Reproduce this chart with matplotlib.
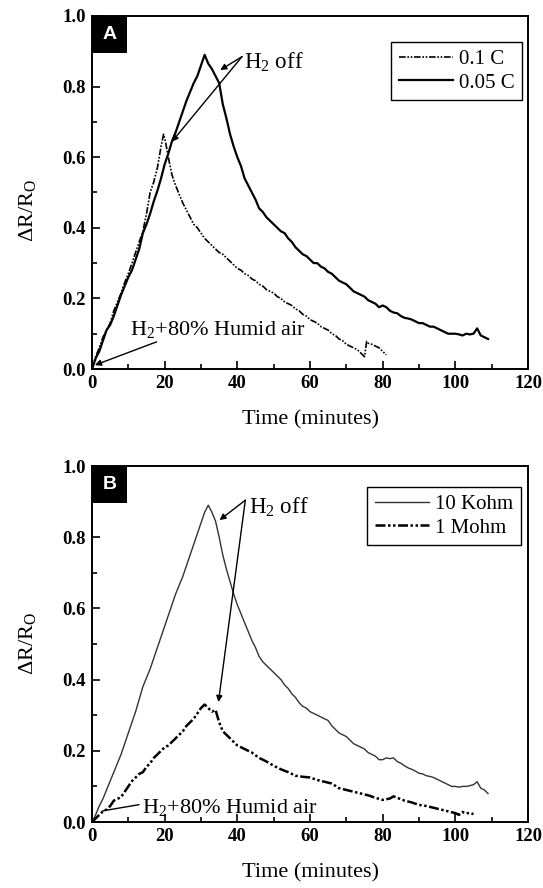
import matplotlib
matplotlib.use("Agg")
import matplotlib.pyplot as plt
from matplotlib.patches import Rectangle
from matplotlib.ticker import MultipleLocator

plt.rcParams['font.family'] = ['Liberation Serif', 'DejaVu Serif']
plt.rcParams['mathtext.fontset'] = 'custom'
plt.rcParams['mathtext.rm'] = 'Liberation Serif'
plt.rcParams['mathtext.it'] = 'Liberation Serif:italic'

# ---- panel A data ----
t_01C = [0, 1, 2, 3, 4, 5, 6, 7, 8, 9, 10, 11, 12, 13, 14, 15, 16, 17, 18, 19, 19.7, 20.3,
         21, 22, 23, 24, 25, 26, 27, 28, 29, 30, 31, 32, 33, 34, 35, 36, 37, 38, 39, 40,
         41, 42, 43, 44, 45, 46, 47, 48, 49, 50, 51, 52, 53, 54, 55, 56, 57, 58, 59, 60,
         61, 62, 63, 64, 65, 66, 67, 68, 69, 70, 71, 72, 73, 74, 75, 75.6, 76, 77, 78, 79, 80, 81]
v_01C = [0.0, 0.035, 0.06, 0.09, 0.11, 0.13, 0.165, 0.19, 0.215, 0.245, 0.27, 0.30, 0.33, 0.36, 0.39, 0.44,
         0.50, 0.53, 0.57, 0.63, 0.665, 0.64, 0.60, 0.55, 0.52, 0.495, 0.47, 0.45, 0.43, 0.41, 0.40, 0.385,
         0.37, 0.36, 0.35, 0.34, 0.33, 0.325, 0.315, 0.305, 0.295, 0.285, 0.28, 0.27, 0.265, 0.255, 0.25,
         0.24, 0.235, 0.225, 0.22, 0.215, 0.205, 0.20, 0.19, 0.185, 0.18, 0.17, 0.165, 0.155, 0.15, 0.14,
         0.135, 0.13, 0.12, 0.115, 0.11, 0.10, 0.095, 0.085, 0.08, 0.07, 0.065, 0.06, 0.055, 0.045, 0.035,
         0.078, 0.073, 0.07, 0.065, 0.06, 0.05, 0.04]

t_005C = list(range(0, 110))
v_005C = [0.0, 0.03, 0.05, 0.08, 0.11, 0.125, 0.15, 0.18, 0.21, 0.235, 0.26, 0.28, 0.31, 0.34, 0.385,
          0.41, 0.44, 0.475, 0.505, 0.54, 0.58, 0.61, 0.645, 0.67, 0.70, 0.73, 0.76, 0.785, 0.81, 0.83,
          0.86, 0.89, 0.865, 0.85, 0.83, 0.81, 0.75, 0.71, 0.665, 0.63, 0.60, 0.575, 0.54, 0.52, 0.50,
          0.48, 0.455, 0.445, 0.43, 0.42, 0.41, 0.40, 0.39, 0.385, 0.37, 0.36, 0.345, 0.335, 0.325, 0.32,
          0.31, 0.30, 0.30, 0.29, 0.285, 0.275, 0.27, 0.26, 0.25, 0.245, 0.24, 0.23, 0.22, 0.215, 0.21,
          0.205, 0.195, 0.19, 0.185, 0.175, 0.18, 0.175, 0.165, 0.16, 0.158, 0.15, 0.145, 0.143, 0.14,
          0.135, 0.13, 0.13, 0.125, 0.12, 0.12, 0.115, 0.11, 0.105, 0.10, 0.10, 0.10, 0.098, 0.095, 0.10,
          0.098, 0.10, 0.115, 0.095, 0.09, 0.085]

# ---- panel B data ----
t_10k = list(range(0, 110))
v_10k = [0.0, 0.02, 0.045, 0.065, 0.09, 0.115, 0.14, 0.165, 0.19, 0.22, 0.25, 0.28, 0.31, 0.345, 0.38,
         0.405, 0.43, 0.46, 0.49, 0.52, 0.55, 0.58, 0.61, 0.64, 0.665, 0.69, 0.72, 0.75, 0.78, 0.81,
         0.84, 0.87, 0.89, 0.87, 0.845, 0.80, 0.75, 0.71, 0.675, 0.64, 0.61, 0.585, 0.56, 0.535, 0.51,
         0.49, 0.465, 0.45, 0.44, 0.43, 0.42, 0.41, 0.40, 0.385, 0.375, 0.36, 0.35, 0.335, 0.325, 0.32,
         0.31, 0.305, 0.30, 0.295, 0.29, 0.285, 0.27, 0.26, 0.25, 0.245, 0.24, 0.23, 0.22, 0.215, 0.21,
         0.205, 0.195, 0.19, 0.185, 0.175, 0.175, 0.18, 0.178, 0.18, 0.17, 0.165, 0.158, 0.152, 0.148,
         0.143, 0.137, 0.135, 0.13, 0.128, 0.125, 0.12, 0.115, 0.11, 0.105, 0.10, 0.10, 0.098, 0.10,
         0.10, 0.102, 0.105, 0.113, 0.095, 0.09, 0.08]

t_1M = [0, 1, 2, 3, 4, 5, 6, 7, 8, 9, 10, 11, 12, 13, 14, 15, 16, 17, 18, 19, 20, 21, 22, 23, 24, 25,
        26, 27, 28, 29, 30, 31, 32, 33, 34, 35, 36, 37, 38, 39, 40, 42, 44, 46, 48, 50, 52, 54, 56,
        58, 60, 62, 64, 66, 68, 70, 72, 74, 76, 78, 80, 82, 83, 84, 86, 88, 90, 92, 94, 96, 98, 100,
        101, 102, 103, 104, 105]
v_1M = [0.0, 0.01, 0.02, 0.03, 0.035, 0.045, 0.06, 0.065, 0.07, 0.085, 0.10, 0.115, 0.125, 0.135, 0.14,
        0.155, 0.165, 0.18, 0.19, 0.20, 0.21, 0.215, 0.225, 0.235, 0.245, 0.255, 0.27, 0.28, 0.29,
        0.305, 0.32, 0.33, 0.32, 0.31, 0.315, 0.28, 0.255, 0.245, 0.235, 0.225, 0.215, 0.205, 0.195,
        0.18, 0.17, 0.158, 0.148, 0.14, 0.13, 0.127, 0.125, 0.118, 0.113, 0.108, 0.095, 0.09, 0.085,
        0.08, 0.075, 0.068, 0.062, 0.066, 0.072, 0.068, 0.06, 0.055, 0.048, 0.045, 0.04, 0.035, 0.03,
        0.025, 0.02, 0.028, 0.024, 0.026, 0.022]

xticks = [0, 20, 40, 60, 80, 100, 120]
yticks = [0.0, 0.2, 0.4, 0.6, 0.8, 1.0]

W, H = 543, 888
fig = plt.figure(figsize=(W / 100, H / 100), dpi=100)


def make_axes(top_px, bottom_px, ylab_y):
    left, right = 92, 528
    h_px = bottom_px - top_px
    ax = fig.add_axes([left / W, (H - bottom_px) / H, (right - left) / W, h_px / H])
    ax.set_xlim(0, 120)
    ax.set_ylim(0, 1.0)
    ax.set_xticks(xticks)
    ax.set_yticks(yticks)
    ax.set_yticklabels(['%.1f' % v for v in yticks])
    ax.xaxis.set_minor_locator(MultipleLocator(10))
    ax.yaxis.set_minor_locator(MultipleLocator(0.1))
    ax.tick_params(which='both', direction='in', top=False, right=False, width=1.2)
    ax.tick_params(which='major', length=6, labelsize=13.5, pad=4.5)
    ax.tick_params(which='minor', length=3.5)
    for lab in ax.get_xticklabels() + ax.get_yticklabels():
        lab.set_fontweight('bold')
    for s in ax.spines.values():
        s.set_linewidth(1.4)
    ax.set_xlabel('Time (minutes)', fontsize=16)
    ax.xaxis.set_label_coords(0.5, -41 / h_px)
    ax.set_ylabel(r'$\Delta$R/R$_\mathrm{O}$', fontsize=16)
    ax.yaxis.set_label_coords(-54 / 436, ylab_y)
    return ax


def panel_tag(ax, letter, h_px):
    ax.add_patch(Rectangle((0, 1 - 37 / h_px), 35 / 436, 37 / h_px, transform=ax.transAxes,
                           facecolor='black', edgecolor='none', zorder=5, clip_on=False))
    ax.text(17.5 / 436, 1 - 18.5 / h_px, letter, transform=ax.transAxes, color='white',
            fontsize=14, fontweight='bold', family='Liberation Sans', ha='center', va='center', zorder=6)


dashdot = (0, (4, 1, 1, 1, 1, 1))
leg_kw = dict(loc='upper right', fontsize=15, frameon=True, fancybox=False, edgecolor='black',
              framealpha=1, handlelength=2.6, handletextpad=0.3, borderpad=0.35,
              labelspacing=0.2, borderaxespad=0)

# ---- panel A ----
axA = make_axes(16, 369, 0.45)
axA.plot(t_01C, v_01C, color='black', lw=1.2, linestyle=dashdot, label='0.1 C')
axA.plot(t_005C, v_005C, color='black', lw=1.6, label='0.05 C')
panel_tag(axA, 'A', 353)
axA.legend(bbox_to_anchor=(0.986, 0.926), **leg_kw)
axA.text(41.8, 0.85, r'H$_2$ off', fontsize=16.5)
arr = dict(arrowstyle='-|>', color='black', lw=1.0, mutation_scale=9, shrinkA=0, shrinkB=0)
axA.annotate('', xy=(35.3, 0.847), xytext=(41.3, 0.885), arrowprops=arr)
axA.annotate('', xy=(22.0, 0.644), xytext=(41.3, 0.885), arrowprops=arr)
axA.text(10.5, 0.095, r'H$_2$+80% Humid air', fontsize=16)
axA.annotate('', xy=(0.8, 0.011), xytext=(17.8, 0.077), arrowprops=arr)

# ---- panel B ----
axB = make_axes(466, 822, 0.5)
axB.plot(t_10k, v_10k, color='#333333', lw=1.0, label='10 Kohm')
axB.plot(t_1M, v_1M, color='black', lw=1.8, linestyle=dashdot, label='1 Mohm')
panel_tag(axB, 'B', 356)
axB.legend(bbox_to_anchor=(0.983, 0.941), **leg_kw)
axB.text(43.3, 0.865, r'H$_2$ off', fontsize=16.5)
axB.annotate('', xy=(35.1, 0.848), xytext=(42.2, 0.904), arrowprops=arr)
axB.annotate('', xy=(34.8, 0.337), xytext=(42.2, 0.904), arrowprops=arr)
axB.text(13.7, 0.025, r'H$_2$+80% Humid air', fontsize=16)
axB.annotate('', xy=(2.2, 0.03), xytext=(13.7, 0.05),
             arrowprops=dict(arrowstyle='-', color='black', lw=1.0))

fig.savefig('out.png', dpi=100)
